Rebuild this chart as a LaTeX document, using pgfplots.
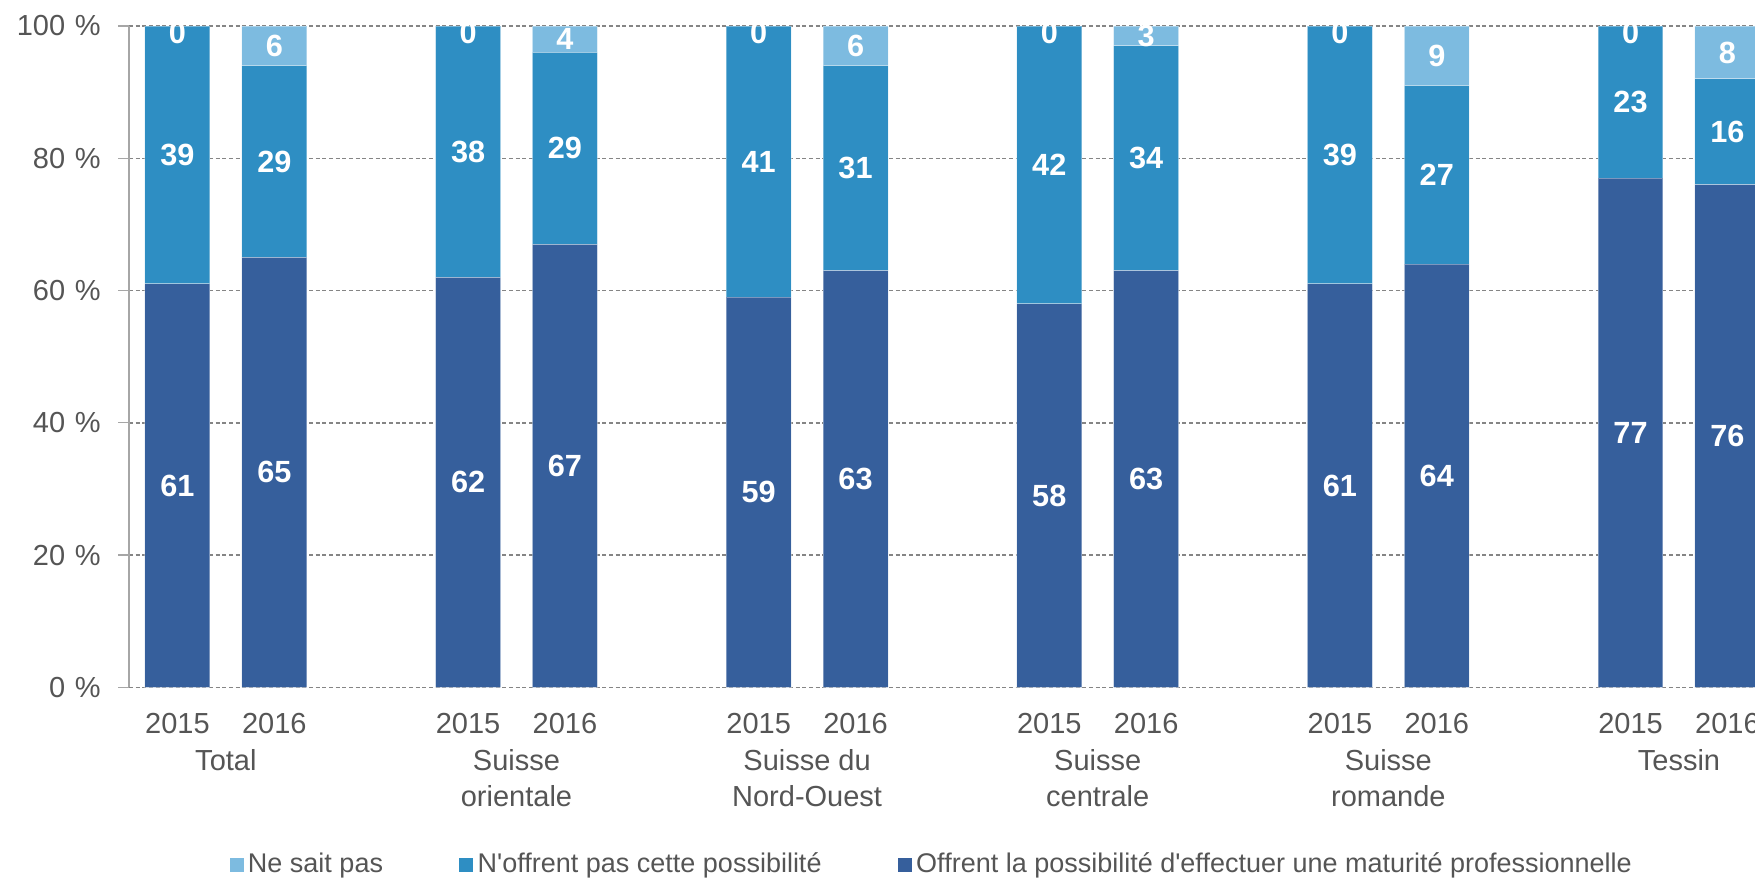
\documentclass[border=0pt]{standalone}
\usepackage{fontspec}
\setmainfont{Liberation Sans}[Ligatures=TeXOff]
\usepackage{pgfplots}
\pgfplotsset{compat=1.18}
\usepackage{pgfplotstable}

\definecolor{cDark}{HTML}{365F9C}
\definecolor{cMid}{HTML}{2E8EC3}
\definecolor{cLight}{HTML}{7DBBE0}
\definecolor{txt}{HTML}{555555}
\definecolor{gridc}{HTML}{858585}
\definecolor{axc}{HTML}{A6A6A6}

% x: 2015/2016 pairs per region
\pgfplotstableread{
x  dark mid light
0  61 39 0
1  65 29 6
3  62 38 0
4  67 29 4
6  59 41 0
7  63 31 6
9  58 42 0
10 63 34 3
12 61 39 0
13 64 27 9
15 77 23 0
16 76 16 8
}\bars

% value labels, centred in each segment
\pgfplotstableread{
x  y    lab
0  30.5 61
0  80.5 39
0  99.0 0
1  32.5 65
1  79.5 29
1  97.0 6
3  31.0 62
3  81.0 38
3  99.0 0
4  33.5 67
4  81.5 29
4  98.0 4
6  29.5 59
6  79.5 41
6  99.0 0
7  31.5 63
7  78.5 31
7  97.0 6
9  29.0 58
9  79.0 42
9  99.0 0
10 31.5 63
10 80.0 34
10 98.5 3
12 30.5 61
12 80.5 39
12 99.0 0
13 32.0 64
13 77.5 27
13 95.5 9
15 38.5 77
15 88.5 23
15 99.0 0
16 38.0 76
16 84.0 16
16 96.0 8
}\labs

\pgfplotsset{base/.style={
  at={(0pt,0pt)}, anchor=south west,
  width=487.8pt, height=198.4pt, scale only axis,
  xmin=-0.5, xmax=16.285, ymin=0, ymax=100}}

\begin{document}
\begin{tikzpicture}
\begin{axis}[base,
  ybar stacked, bar width=0.67,
  axis lines*=left,
  x axis line style={draw=none},
  y axis line style={draw=axc, line width=0.4pt},
  ytick={0,20,...,100},
  yticklabels={0\,\,\%,20\,\,\%,40\,\,\%,60\,\,\%,80\,\,\%,100\,\,\%},
  tick align=outside, major tick length=3.3pt,
  ytick style={draw=axc, line width=0.4pt},
  xtick={0,1,3,4,6,7,9,10,12,13,15,16},
  xticklabels={2015,2016,2015,2016,2015,2016,2015,2016,2015,2016,2015,2016},
  xtick style={draw=none},
  extra x ticks={0.5,3.5,6.5,9.5,12.5,15.5},
  extra x tick labels={Total,{Suisse\\orientale},{Suisse du\\Nord-Ouest},{Suisse\\centrale},{Suisse\\romande},Tessin},
  extra x tick style={grid=none, tick style={draw=none}, xticklabel style={yshift=-10.6pt}},
  ymajorgrids,
  major grid style={draw=gridc, line width=0.45pt, dash pattern=on 1.2pt off 0.8pt},
  tick label style={font=\fontsize{8.7}{10.8}\selectfont, text=txt, inner sep=0pt},
  xticklabel style={anchor=north, align=center, yshift=-4.4pt},
  yticklabel style={anchor=east, xshift=-5pt},
  legend columns=3, reverse legend,
  legend style={draw=none, fill=none, inner sep=0pt, at={(0.0615,-0.269)}, anchor=west,
    font=\fontsize{8.1}{9.7}\selectfont, text=txt, nodes={inner sep=1.3pt},
    /tikz/every even column/.append style={column sep=21.6pt}},
  legend image code/.code={\path[#1,draw=none] (0pt,-2.1pt) rectangle (4.2pt,2.1pt);},
]
\addplot[fill=cDark, draw=white, draw opacity=0.35, line width=0.3pt] table[x=x,y=dark]{\bars};
\addplot[fill=cMid, draw=white, draw opacity=0.35, line width=0.3pt] table[x=x,y=mid]{\bars};
\addplot[fill=cLight, draw=white, draw opacity=0.35, line width=0.3pt] table[x=x,y=light]{\bars};
\legend{Offrent la possibilité d'effectuer une maturité professionnelle,N'offrent pas cette possibilité,Ne sait pas}
\end{axis}
\begin{axis}[base, hide axis,
  nodes near coords, point meta=explicit symbolic,
  every node near coord/.append style={anchor=center, text=white,
    font=\fontsize{9.2}{10}\selectfont\bfseries, inner sep=0pt}]
\addplot[draw=none, mark=none] table[x=x,y=y,meta=lab]{\labs};
\end{axis}
\pgfresetboundingbox
\path[use as bounding box] (-38.7pt,-57pt) rectangle (487.8pt,206.2pt);
\end{tikzpicture}
\end{document}
